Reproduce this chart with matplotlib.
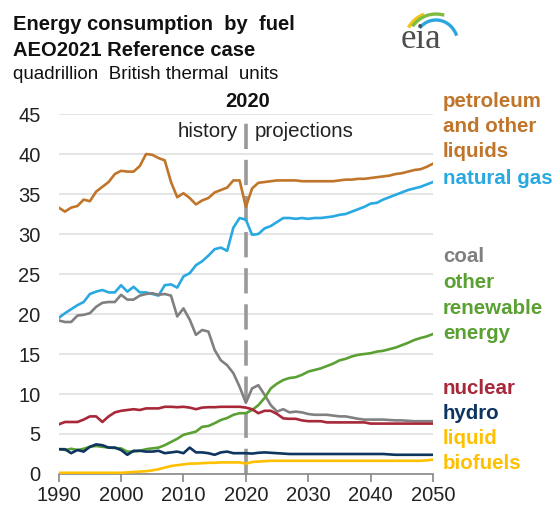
import matplotlib.pyplot as plt
import numpy as np
from matplotlib.patches import Arc

plt.rcParams['font.family'] = ['Liberation Sans', 'DejaVu Sans']

years = np.arange(1990, 2051)

petroleum = [33.3, 32.8, 33.3, 33.5, 34.3, 34.1, 35.3, 35.9, 36.5, 37.5,
             37.9, 37.8, 37.8, 38.5, 40.0, 39.9, 39.5, 39.2, 36.5, 34.6,
             35.1, 34.5, 33.7, 34.2, 34.5, 35.2, 35.5, 35.8, 36.7, 36.7,
             33.4,
             35.7, 36.4, 36.5, 36.6, 36.7, 36.7, 36.7, 36.7, 36.6, 36.6,
             36.6, 36.6, 36.6, 36.6, 36.7, 36.8, 36.8, 36.9, 36.9, 37.0,
             37.1, 37.2, 37.3, 37.5, 37.6, 37.8, 38.0, 38.1, 38.4, 38.8]
natural_gas = [19.5, 20.1, 20.6, 21.1, 21.5, 22.5, 22.8, 23.0, 22.7, 22.7,
               23.6, 22.8, 23.4, 22.7, 22.7, 22.5, 22.3, 23.6, 23.7, 23.3,
               24.7, 25.1, 26.1, 26.6, 27.3, 28.1, 28.3, 27.9, 30.8, 32.0,
               31.8,
               29.9, 30.0, 30.7, 31.0, 31.5, 32.0, 32.0, 31.9, 32.0, 31.9,
               32.0, 32.0, 32.1, 32.2, 32.4, 32.5, 32.8, 33.1, 33.4, 33.8,
               33.9, 34.3, 34.6, 34.9, 35.2, 35.5, 35.7, 35.9, 36.2, 36.5]
coal = [19.2, 19.0, 19.0, 19.8, 19.9, 20.1, 20.9, 21.4, 21.5, 21.5,
        22.4, 21.8, 21.8, 22.3, 22.5, 22.6, 22.4, 22.5, 22.3, 19.7,
        20.7, 19.3, 17.4, 18.0, 17.8, 15.5, 14.2, 13.6, 12.6, 10.9,
        8.9,
        10.7, 11.1, 9.9, 8.6, 7.8, 8.1, 7.7, 7.8, 7.7, 7.5,
        7.4, 7.4, 7.4, 7.3, 7.2, 7.2, 7.05, 6.9, 6.8, 6.8,
        6.8, 6.8, 6.75, 6.7, 6.7, 6.65, 6.6, 6.6, 6.6, 6.6]
other_renewable = [3.1, 3.0, 3.15, 3.0, 3.15, 3.4, 3.5, 3.4, 3.3, 3.25,
                   3.2, 2.8, 2.8, 2.9, 3.1, 3.2, 3.3, 3.6, 4.0, 4.4,
                   4.9, 5.1, 5.3, 5.9, 6.0, 6.35, 6.75, 7.0, 7.4, 7.6,
                   7.6,
                   8.0, 8.6, 9.5, 10.7, 11.3, 11.75, 12.0, 12.1, 12.4, 12.8,
                   13.0, 13.2, 13.5, 13.8, 14.2, 14.4, 14.7, 14.9, 15.0, 15.1,
                   15.3, 15.4, 15.6, 15.8, 16.1, 16.4, 16.75, 17.0, 17.2, 17.5]
nuclear = [6.2, 6.5, 6.5, 6.5, 6.8, 7.2, 7.2, 6.5, 7.2, 7.7,
           7.9, 8.0, 8.1, 8.0, 8.2, 8.2, 8.2, 8.4, 8.4, 8.35,
           8.4, 8.3, 8.1, 8.3, 8.35, 8.35, 8.4, 8.4, 8.4, 8.4,
           8.3,
           8.1, 7.6, 7.9, 7.9, 7.5, 6.95, 6.9, 6.9, 6.7, 6.6,
           6.6, 6.6, 6.45, 6.45, 6.45, 6.45, 6.45, 6.45, 6.45, 6.3,
           6.3, 6.3, 6.3, 6.3, 6.3, 6.3, 6.3, 6.3, 6.3, 6.3]
hydro = [3.1, 3.1, 2.6, 3.0, 2.8, 3.4, 3.7, 3.6, 3.3, 3.3,
         3.0, 2.4, 2.9, 2.9, 2.8, 2.8, 2.9, 2.6, 2.7, 2.8,
         2.6, 3.3, 2.7, 2.7, 2.6, 2.4, 2.7, 2.8, 2.6, 2.6,
         2.6,
         2.55, 2.65, 2.7, 2.65, 2.6, 2.55, 2.5, 2.5, 2.5, 2.5,
         2.5, 2.5, 2.5, 2.5, 2.5, 2.5, 2.5, 2.5, 2.5, 2.5,
         2.5, 2.5, 2.45, 2.4, 2.4, 2.4, 2.4, 2.4, 2.4, 2.4]
liquid_biofuels = [0.15, 0.15, 0.15, 0.15, 0.15, 0.15, 0.15, 0.15, 0.15, 0.15,
                   0.15, 0.2, 0.25, 0.3, 0.35, 0.45, 0.6, 0.8, 1.0, 1.1,
                   1.2, 1.3, 1.3, 1.35, 1.4, 1.4, 1.45, 1.45, 1.45, 1.45,
                   1.3,
                   1.5, 1.55, 1.6, 1.65, 1.65, 1.65, 1.65, 1.65, 1.65, 1.65,
                   1.65, 1.65, 1.65, 1.65, 1.65, 1.65, 1.65, 1.65, 1.65, 1.65,
                   1.65, 1.65, 1.65, 1.65, 1.65, 1.65, 1.65, 1.65, 1.7, 1.8]

series_names = ['petroleum\nand other\nliquids', 'natural gas', 'coal',
                'other\nrenewable\nenergy', 'nuclear', 'hydro',
                'liquid\nbiofuels']
series_values = [petroleum, natural_gas, coal, other_renewable, nuclear,
                 hydro, liquid_biofuels]
colors = ['#C0752A', '#29A9E1', '#808080', '#5AA032', '#A8283A',
          '#0E3460', '#FFC000']
label_y = [46.6, 37.0, 27.2, 23.9, 10.75, 7.5, 4.4]  # top line of each label

fig = plt.figure(figsize=(5.58, 5.07), dpi=100)
ax = fig.add_axes([0.1052, 0.0651, 0.6708, 0.710])

for vals, c in zip(series_values, colors):
    ax.plot(years, vals, color=c, linewidth=1.9, zorder=3,
            solid_joinstyle='round')

# 2020 divider
ax.plot([2020, 2020], [0, 44.8], color='#999999', linewidth=2.6,
        dashes=(7, 3), zorder=2)
ax.text(2020.3, 46.6, '2020', ha='center', va='center', fontsize=14.5,
        fontweight='bold', color='#111111')
ax.text(2018.8, 42.8, 'history', ha='right', va='center', fontsize=14.8,
        color='#222222')
ax.text(2021.4, 42.8, 'projections', ha='left', va='center', fontsize=14.8,
        color='#222222')

ax.set_xlim(1990, 2050)
ax.set_ylim(0, 45)
ax.set_yticks(np.arange(0, 46, 5))
ax.set_xticks(np.arange(1990, 2051, 10))
ax.grid(axis='y', color='#E3E3E3', linewidth=1.3, zorder=0)
ax.set_axisbelow(True)
for s in ['left', 'right', 'top']:
    ax.spines[s].set_visible(False)
ax.spines['bottom'].set_color('#888888')
ax.spines['bottom'].set_linewidth(1.2)
ax.tick_params(axis='y', length=0, pad=13, labelsize=14.5, labelcolor='#222222')
ax.tick_params(axis='x', length=6, width=1.2, color='#888888', pad=3,
               labelsize=14.5, labelcolor='#222222')

# right-hand labels
line_step = 3.15
for name, y0, c in zip(series_names, label_y, colors):
    for i, line in enumerate(name.split('\n')):
        ax.text(2051.6, y0 - i * line_step, line, ha='left', va='center',
                fontsize=14.8, fontweight='bold', color=c, clip_on=False)

# titles
fig.text(0.024, 0.951, 'Energy consumption  by  fuel', fontsize=14.5,
         fontweight='bold', va='center', color='#111111')
fig.text(0.024, 0.901, 'AEO2021 Reference case', fontsize=14.5,
         fontweight='bold', va='center', color='#111111')
fig.text(0.024, 0.854, 'quadrillion  British thermal  units', fontsize=13.5,
         va='center', color='#111111')

# eia logo
lax = fig.add_axes([0, 0, 1, 1], facecolor='none')
lax.set_xlim(0, 558)
lax.set_ylim(507, 0)
lax.axis('off')
lax.text(401, 47.5, 'eia', family='Liberation Serif', fontsize=25,
         color='#4D4D4D', va='baseline', ha='left')
lax.add_patch(Arc((436, 44), 64, 64, theta1=211, theta2=248,
                  color='#F2C318', linewidth=2.6))
lax.add_patch(Arc((436, 44), 58, 60, theta1=217, theta2=286,
                  color='#7DBB42', linewidth=2.4))
lax.add_patch(Arc((436, 44), 44, 48, theta1=224, theta2=338,
                  color='#2BA6DE', linewidth=2.4))

fig.savefig('out.png', dpi=100)
